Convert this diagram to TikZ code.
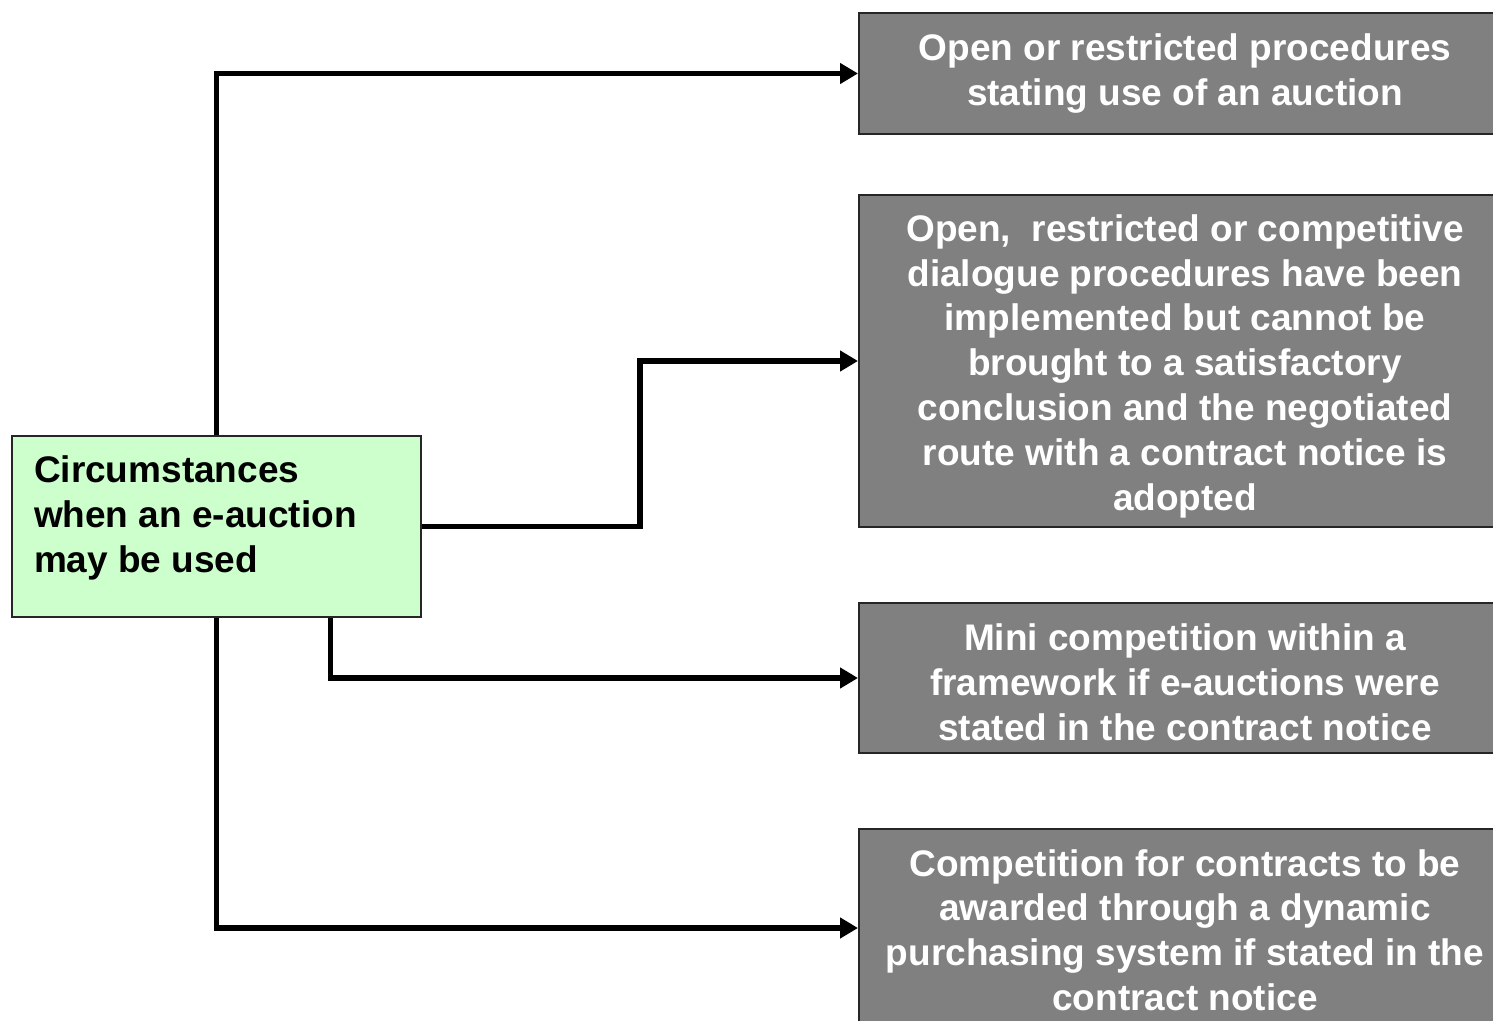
\documentclass[tikz,border=0pt]{standalone}
\usepackage{fontspec}
\setmainfont{Liberation Sans}
\usetikzlibrary{arrows.meta,calc}
\definecolor{boxgray}{HTML}{808080}
\definecolor{boxgreen}{HTML}{CCFFCC}
% strut that lowers the first text line of a box a little
\newcommand{\toppad}[1]{\rule{0pt}{#1}}
\begin{document}
\begin{tikzpicture}[x=0.5pt,y=-0.5pt,
  every node/.style={font=\fontsize{18.5pt}{22.4pt}\selectfont\bfseries},
  optbox/.style={draw=black!85,line width=1pt,fill=boxgray,text=white,
    align=center,inner sep=0pt,minimum width=326pt},
  link/.style={line width=2.6pt,line join=miter,
    -{Triangle[length=9pt,width=10pt]}}]
\useasboundingbox (0,0) rectangle (1493,1021);
\clip (0,0) rectangle (1493,1021);

% the starting box
\node[draw=black!85,line width=0.8pt,fill=boxgreen,inner sep=0pt,
  minimum width=204.5pt,minimum height=90.5pt] (g) at (216.5,526.5)
  {\parbox[c][90.5pt][t]{204.5pt}{\vspace{10pt}\hspace*{11pt}\parbox{190pt}{%
    Circumstances\\when an e-auction\\may be used}}};

% the four cases
\node[optbox,minimum height=60.5pt] (b1) at (1185,73.5)
  {Open or restricted procedures\\stating use of an auction};
\node[optbox,minimum height=166pt] (b2) at (1185,361)
  {\toppad{18.5pt}Open,\ \ restricted or competitive\\dialogue procedures have been\\
   implemented but cannot be\\brought to a satisfactory\\
   conclusion and the negotiated\\route with a contract notice is\\adopted};
\node[optbox,minimum height=75pt] (b3) at (1185,678)
  {\toppad{17.5pt}Mini competition within a\\framework if e-auctions were\\
   stated in the contract notice};
\node[optbox,minimum height=101pt] (b4) at (1185,930)
  {Competition for contracts to be\\awarded through a dynamic\\
   purchasing system if stated in the\\contract notice};

% connectors
\coordinate (k2) at (640,526.5);
\coordinate (k3) at ($(g.south)+(114,0)$);
\draw[link] (g.north) |- (b1.west);
\draw[link] (g.east) -- (k2) |- (b2.west);
\draw[link] (k3) |- (b3.west);
\draw[link] (g.south) |- ([yshift=1pt]b4.west);
\end{tikzpicture}
\end{document}
